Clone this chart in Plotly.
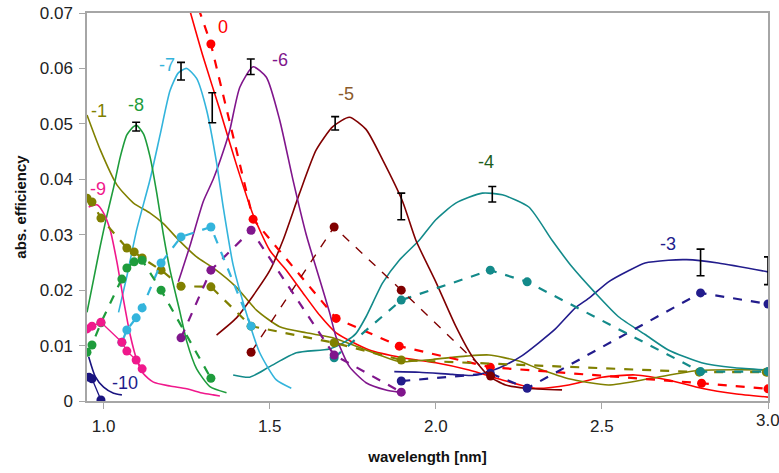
import plotly.graph_objects as go

# ---------------- theory curves (solid) ----------------
th0_x = [1.25, 1.30, 1.35, 1.40, 1.45, 1.50, 1.55, 1.60, 1.65, 1.70, 1.80, 1.90, 2.00, 2.10, 2.20, 2.30, 2.40, 2.50, 2.60, 2.70, 2.80, 2.90, 3.00]
th0_y = [0.0725, 0.062, 0.0525, 0.0426, 0.0336, 0.0272, 0.0236, 0.0195, 0.0155, 0.0123, 0.0092, 0.0078, 0.0069, 0.0056, 0.0038, 0.0023, 0.0029, 0.0043, 0.0047, 0.0038, 0.0023, 0.0013, 0.0007]

th1_x = [0.95, 0.99, 1.04, 1.09, 1.14, 1.18, 1.23, 1.28, 1.33, 1.40, 1.46, 1.53, 1.61, 1.69, 1.79, 1.89, 1.99, 2.09, 2.16, 2.25, 2.31, 2.40, 2.52, 2.65, 2.79, 3.00]
th1_y = [0.0516, 0.0453, 0.0390, 0.0357, 0.0339, 0.0320, 0.0288, 0.0260, 0.0240, 0.0205, 0.0164, 0.0134, 0.0123, 0.0114, 0.0092, 0.0071, 0.0075, 0.0081, 0.0083, 0.0072, 0.0058, 0.0040, 0.0029, 0.0041, 0.0055, 0.0056]

th3_x = [1.875, 1.95, 2.05, 2.11, 2.17, 2.21, 2.26, 2.31, 2.36, 2.42, 2.46, 2.52, 2.58, 2.63, 2.70, 2.755, 2.85, 3.00]
th3_y = [0.0053, 0.0052, 0.0048, 0.0046, 0.0055, 0.0065, 0.0082, 0.0105, 0.0130, 0.0168, 0.0185, 0.0215, 0.0235, 0.0249, 0.0254, 0.0255, 0.0249, 0.0233]

th4_x = [1.39, 1.44, 1.50, 1.58, 1.68, 1.73, 1.76, 1.79, 1.84, 1.89, 1.95, 2.00, 2.06, 2.14, 2.20, 2.28, 2.35, 2.41, 2.48, 2.55, 2.63, 2.70, 2.80, 2.90, 3.00]
th4_y = [0.0047, 0.0043, 0.0062, 0.0087, 0.0094, 0.0108, 0.0122, 0.0152, 0.0213, 0.0254, 0.0290, 0.0327, 0.0357, 0.0375, 0.0372, 0.0350, 0.0290, 0.0242, 0.0195, 0.0152, 0.0120, 0.0092, 0.0069, 0.0060, 0.0056]

th5_x = [1.34, 1.40, 1.45, 1.50, 1.54, 1.59, 1.64, 1.69, 1.74, 1.79, 1.84, 1.90, 1.94, 2.00, 2.06, 2.11, 2.16, 2.21, 2.27, 2.38]
th5_y = [0.0119, 0.0150, 0.0190, 0.0235, 0.0290, 0.0375, 0.0453, 0.0495, 0.0512, 0.0490, 0.0435, 0.0360, 0.0290, 0.0215, 0.0135, 0.0080, 0.0045, 0.0029, 0.0023, 0.0020]

th6_x = [1.225, 1.26, 1.30, 1.33, 1.36, 1.38, 1.41, 1.45, 1.49, 1.53, 1.57, 1.61, 1.65, 1.68, 1.70, 1.74, 1.79, 1.85, 1.89]
th6_y = [0.0215, 0.0280, 0.0360, 0.0400, 0.0450, 0.0489, 0.0566, 0.0603, 0.0584, 0.0507, 0.0399, 0.0300, 0.0220, 0.0160, 0.0115, 0.0062, 0.0033, 0.0020, 0.0016]

th7_x = [1.045, 1.07, 1.10, 1.14, 1.17, 1.20, 1.225, 1.25, 1.28, 1.31, 1.34, 1.36, 1.39, 1.43, 1.47, 1.52, 1.565]
th7_y = [0.0160, 0.0225, 0.0310, 0.0400, 0.0480, 0.0560, 0.0592, 0.0600, 0.0582, 0.0525, 0.0430, 0.0350, 0.0245, 0.0158, 0.0087, 0.0038, 0.0023]

th8_x = [0.95, 0.97, 0.99, 1.01, 1.03, 1.05, 1.07, 1.09, 1.10, 1.12, 1.14, 1.16, 1.18, 1.20, 1.23, 1.25, 1.28, 1.32, 1.37]
th8_y = [0.0160, 0.0220, 0.0280, 0.0335, 0.0385, 0.0440, 0.0480, 0.0495, 0.0497, 0.0482, 0.0440, 0.0375, 0.0300, 0.0236, 0.0160, 0.0108, 0.0058, 0.0026, 0.0015]

th9_x = [0.955, 0.98, 1.00, 1.02, 1.04, 1.06, 1.08, 1.10, 1.12, 1.15, 1.20, 1.25, 1.30, 1.33, 1.35]
th9_y = [0.0350, 0.0354, 0.0339, 0.0308, 0.0251, 0.0182, 0.0119, 0.0074, 0.0049, 0.0034, 0.0027, 0.0022, 0.0014, 0.0011, 0.0009]

th10_x = [0.955, 0.975, 1.00, 1.03, 1.055]
th10_y = [0.0080, 0.0044, 0.0025, 0.0014, 0.0011]

# ---------------- measured points (dashed, markers) ----------------
ms0_x = [1.25, 1.323, 1.45, 1.70, 1.89, 2.164, 2.80, 3.00]
ms0_y = [0.0770, 0.0644, 0.0328, 0.0149, 0.0099, 0.0061, 0.0032, 0.0022]

ms1_x = [0.95, 0.965, 0.992, 1.07, 1.092, 1.116, 1.173, 1.233, 1.323, 1.444, 1.694, 1.896, 2.793, 2.995]
ms1_y = [0.0366, 0.0359, 0.0330, 0.0276, 0.0269, 0.0258, 0.0236, 0.0207, 0.0206, 0.0135, 0.0105, 0.0074, 0.0052, 0.0052]

ms3_x = [1.896, 2.164, 2.275, 2.797, 3.00]
ms3_y = [0.0036, 0.0050, 0.0023, 0.0195, 0.0175]

ms4_x = [1.694, 1.896, 2.164, 2.275, 2.797, 3.00]
ms4_y = [0.0078, 0.0182, 0.0236, 0.0215, 0.0053, 0.0053]

ms5_x = [1.444, 1.694, 1.896, 2.165]
ms5_y = [0.0088, 0.0314, 0.0200, 0.0045]

ms6_x = [1.233, 1.323, 1.444, 1.694, 1.896]
ms6_y = [0.0114, 0.0236, 0.0308, 0.0083, 0.0016]

ms7_x = [1.055, 1.07, 1.098, 1.116, 1.173, 1.233, 1.323, 1.444]
ms7_y = [0.0106, 0.0128, 0.0150, 0.0168, 0.0249, 0.0296, 0.0314, 0.0135]

ms8_x = [0.95, 0.965, 0.992, 1.055, 1.07, 1.092, 1.116, 1.173, 1.323]
ms8_y = [0.0088, 0.0101, 0.0141, 0.0220, 0.0240, 0.0251, 0.0254, 0.0200, 0.0041]

ms9_x = [0.95, 0.965, 0.992, 1.055, 1.07, 1.098, 1.116]
ms9_y = [0.0130, 0.0135, 0.0142, 0.0106, 0.0090, 0.0074, 0.0058]

ms10_x = [0.956, 0.965, 0.992]
ms10_y = [0.0043, 0.0040, 0.0002]

# ---------------- error bars ----------------
err_x = [1.098, 1.233, 1.327, 1.443, 1.697, 1.896, 2.170, 2.797, 3.000]
err_y = [0.0495, 0.0595, 0.0529, 0.0603, 0.0501, 0.0351, 0.0373, 0.0250, 0.0235]
err_e = [0.0008, 0.0016, 0.0027, 0.0014, 0.0012, 0.0024, 0.0014, 0.0024, 0.0025]

# ---------------- axis ticks ----------------
x_tickvals = [1.0, 1.5, 2.0, 2.5, 3.0]
x_ticktext = ["1.0", "1.5", "2.0", "2.5", ""]   # last label drawn as an annotation (clipped at the edge)
x_last_label = "3.0"
y_tickvals = [0, 0.01, 0.02, 0.03, 0.04, 0.05, 0.06, 0.07]
y_ticktext = ["0", "0.01", "0.02", "0.03", "0.04", "0.05", "0.06", "0.07"]

# ---------------- order labels ----------------
lab_text = ["0", "-1", "-3", "-4", "-5", "-6", "-7", "-8", "-9", "-10"]
lab_x = [1.36, 0.985, 2.70, 2.15, 1.73, 1.53, 1.19, 1.097, 0.982, 1.065]
lab_y = [0.0675, 0.0524, 0.0284, 0.0431, 0.0554, 0.0615, 0.0607, 0.0534, 0.0382, 0.0033]
lab_color = ["#ff0000", "#808000", "#221c8c", "#1d5e1d", "#8b5a2b", "#80168c", "#33b4dc", "#1e9c3c", "#f0188c", "#221c8c"]

COL = {
    "0": "#ff0000", "-1": "#808000", "-3": "#221c8c", "-4": "#138a8a",
    "-5": "#800000", "-6": "#80168c", "-7": "#33b4dc", "-8": "#1e9c3c",
    "-9": "#f0188c", "-10": "#1a1480",
}

theory = [("0", th0_x, th0_y), ("-1", th1_x, th1_y), ("-3", th3_x, th3_y), ("-4", th4_x, th4_y),
          ("-5", th5_x, th5_y), ("-6", th6_x, th6_y), ("-7", th7_x, th7_y), ("-8", th8_x, th8_y),
          ("-9", th9_x, th9_y), ("-10", th10_x, th10_y)]
measured = [("0", ms0_x, ms0_y), ("-1", ms1_x, ms1_y), ("-3", ms3_x, ms3_y), ("-4", ms4_x, ms4_y),
            ("-5", ms5_x, ms5_y), ("-6", ms6_x, ms6_y), ("-7", ms7_x, ms7_y), ("-8", ms8_x, ms8_y),
            ("-9", ms9_x, ms9_y), ("-10", ms10_x, ms10_y)]

fig = go.Figure()

for name, xs, ys in theory:
    fig.add_trace(go.Scatter(x=xs, y=ys, mode="lines", line=dict(color=COL[name], width=1.6, shape="spline", smoothing=0.6),
                             showlegend=False, cliponaxis=True))

for name, xs, ys in measured:
    w = 1.4 if name == "-5" else 2.2
    dash = "solid" if name in ("-9", "-10") else "dash"
    lw = 1.3 if name in ("-9", "-10") else w
    fig.add_trace(go.Scatter(x=xs, y=ys, mode="lines+markers",
                             line=dict(color=COL[name], width=lw, dash=dash),
                             marker=dict(color=COL[name], size=9),
                             showlegend=False, cliponaxis=True))

fig.add_trace(go.Scatter(x=err_x, y=err_y, mode="markers", marker=dict(size=0.1, color="black", opacity=0),
                         error_y=dict(type="data", array=err_e, visible=True, color="black", thickness=1.6, width=4),
                         showlegend=False))

for t, x, y, c in zip(lab_text, lab_x, lab_y, lab_color):
    fig.add_annotation(x=x, y=y, text=t, showarrow=False, font=dict(color=c, size=18, family="Liberation Sans, Arial"))

fig.add_annotation(x=x_tickvals[-1], xref="x", y=0, yref="paper", text=x_last_label, showarrow=False,
                   yanchor="top", xanchor="center", yshift=-8,
                   font=dict(size=17, color="#222222", family="Liberation Sans, Arial"))

fig.update_layout(
    width=779, height=473,
    margin=dict(l=87, r=11, t=13, b=72, autoexpand=False),
    paper_bgcolor="white", plot_bgcolor="white",
    font=dict(family="Liberation Sans, Arial", size=17, color="#222222"),
    xaxis=dict(range=[0.95, 3.0], tickvals=x_tickvals, ticktext=x_ticktext,
               showgrid=False, zeroline=False, showline=True, linecolor="#a6a6a6", linewidth=1.5, mirror=True,
               ticks="outside", ticklen=6, tickcolor="#a6a6a6", ticklabelstandoff=3, automargin=False,
               title=dict(text="<b>wavelength [nm]</b>", font=dict(size=15, color="#111111"), standoff=16)),
    yaxis=dict(range=[0, 0.07], tickvals=y_tickvals, ticktext=y_ticktext,
               showgrid=False, zeroline=False, showline=True, linecolor="#a6a6a6", linewidth=1.5, mirror=True,
               ticks="outside", ticklen=6, tickcolor="#a6a6a6", ticklabelstandoff=3, automargin=False,
               title=dict(text="<b>abs. efficiency</b>", font=dict(size=15, color="#111111"), standoff=10)),
)

fig.write_html("out.html")
